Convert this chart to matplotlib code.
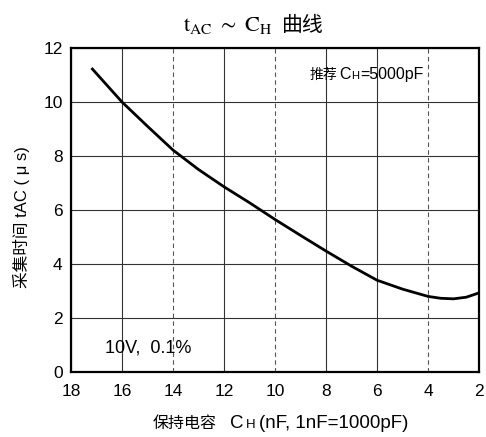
import matplotlib.pyplot as plt

# hold capacitance (nF) vs acquisition time (us)
cap_nf = [17.16, 16, 15, 14, 13, 12, 11, 10, 9, 8, 7, 6, 5, 4, 3.5, 3, 2.5, 2]
t_ac_us = [11.22, 10.0, 9.1, 8.22, 7.5, 6.86, 6.27, 5.65, 5.06, 4.48,
           3.92, 3.4, 3.07, 2.8, 2.73, 2.71, 2.77, 2.93]

x_ticks = [18, 16, 14, 12, 10, 8, 6, 4, 2]
y_ticks = [0, 2, 4, 6, 8, 10, 12]
dashed_x = [14, 10, 4]

W, H = 486, 437
plt.rcParams['mathtext.fontset'] = 'stix'
sans = ['Liberation Sans', 'Noto Sans CJK SC']
cjk = 'Noto Sans CJK SC'

fig = plt.figure(figsize=(W / 100, H / 100), dpi=100)
ax = fig.add_axes([71 / W, 1 - 372 / H, 408 / W, 324 / H])
renderer = fig.canvas.get_renderer()


def text_run(x_px, y_px, pieces):
    """Write pieces (gap, text, size, family) one after another on one baseline."""
    x = x_px
    for gap, s, size, fam in pieces:
        x += gap
        t = fig.text(x / W, 1 - y_px / H, s, fontsize=size, family=fam,
                     va='baseline')
        x = t.get_window_extent(renderer).x1


ax.plot(cap_nf, t_ac_us, color='black', lw=2.0)

ax.set_xlim(18, 2)
ax.set_ylim(0, 12)
ax.set_xticks(x_ticks)
ax.set_yticks(y_ticks)
ax.tick_params(length=0, labelsize=12.5, pad=6)
for lab in ax.get_xticklabels() + ax.get_yticklabels():
    lab.set_family('Liberation Sans')
ax.tick_params(axis='x', pad=9)

ax.grid(True, color='#333333', lw=0.8)
for val, gl in zip(x_ticks, ax.xaxis.get_gridlines()):
    if val in dashed_x:
        gl.set_linestyle((0, (4, 3)))
        gl.set_color('#555555')
for sp in ax.spines.values():
    sp.set_linewidth(1.6)

# notes inside the plot
text_run(310, 79, [(0, '推荐', 10, cjk), (1, 'C', 11.5, sans),
                   (1, 'H', 8, sans), (1, '=5000pF', 11.5, sans)])
ax.text(16.67, 0.74, '10V,  0.1%', family=sans, fontsize=13, va='baseline')

# title
text_run(183, 31, [(0, r'$\mathrm{t_{AC}\ \sim\ C_H}$', 16, 'serif'),
                   (9, '曲线', 15, cjk)])

# x label
text_run(153, 428, [(0, '保持电容', 11.5, cjk), (13, 'C', 13.5, sans),
                    (2, 'H', 9.5, sans), (4, '(nF, 1nF=1000pF)', 13.5, sans)])

# y label
fig.text(21 / W, 1 - 217 / H, '采集时间 tAC ( μ s)', family=sans,
         fontsize=12, rotation=90, ha='center', va='center')

fig.savefig('out.png', dpi=100)
